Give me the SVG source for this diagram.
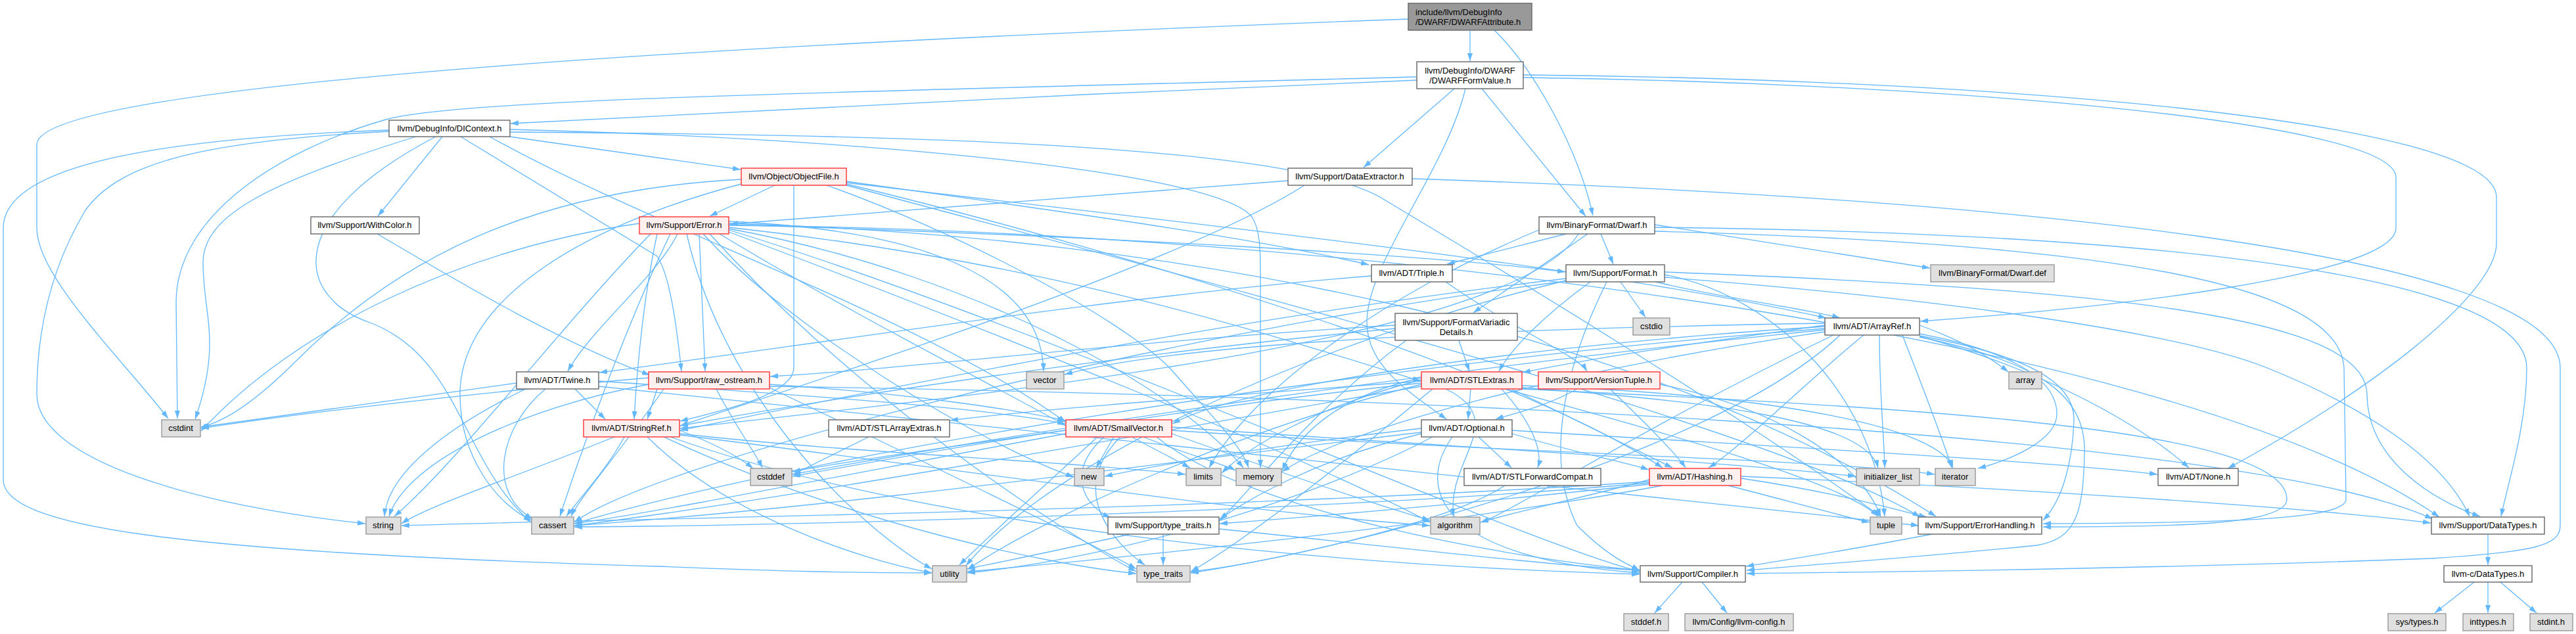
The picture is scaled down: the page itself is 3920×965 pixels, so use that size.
<svg xmlns="http://www.w3.org/2000/svg" width="3920" height="965" viewBox="0 0 3920 965">
<defs>
<style>
.e{fill:none;stroke:#63b8ff;stroke-width:1.3;marker-end:url(#ah)}
.w{fill:#ffffff;stroke:#666666;stroke-width:1.4}
.r{fill:#fff0f0;stroke:#ff3333;stroke-width:1.4}
.g{fill:#e0e0e0;stroke:#999999;stroke-width:1.4}
.k{fill:#999999;stroke:#666666;stroke-width:1.4}
text{font-family:"Liberation Sans",Arial,sans-serif;font-size:13px;fill:#000000;text-anchor:middle}
</style>
<marker id="ah" viewBox="0 0 12 8" refX="12" refY="4" markerWidth="12" markerHeight="8" markerUnits="userSpaceOnUse" orient="auto"><path d="M0,0 L12,4 L0,8 z" fill="#63b8ff"/></marker>
</defs>
<rect width="3920" height="965" fill="#ffffff"/>
<g id="edges">
<path class="e" d="M2237,46 L2237,93"/>
<path class="e" d="M2274,46 C2330,100 2400,220 2424,328"/>
<path class="e" d="M2143,29 C1300,60 56,120 56,220 L56,347 C56,420 180,540 256,637"/>
<path class="e" d="M2156,122 C1700,140 1100,170 777,188"/>
<path class="e" d="M2156,117 C1300,140 700,150 587,182 C420,230 268,330 268,460 L270,637"/>
<path class="e" d="M2213,135 L2075,255"/>
<path class="e" d="M2255,135 L2413,329"/>
<path class="e" d="M2230,135 C2200,260 2080,400 2080,490 C2080,560 2150,600 2201,638"/>
<path class="e" d="M2318,114 C3000,120 3799,180 3799,300 L3799,370 C3799,450 3600,600 3390,713"/>
<path class="e" d="M2318,118 C2900,125 3646,180 3646,270 L3646,347 C3646,420 3200,470 2922,489"/>
<path class="e" d="M776,208 L1127,258"/>
<path class="e" d="M673,208 L575,329"/>
<path class="e" d="M745,208 C1000,350 1400,480 1622,643"/>
<path class="e" d="M776,197 C1300,210 1850,260 1905,330 C1918,350 1918,380 1918,420 L1918,712"/>
<path class="e" d="M776,201 C1300,205 1950,215 2100,300 C2300,420 2600,600 2862,786"/>
<path class="e" d="M592,200 C300,215 180,250 130,320 C70,420 56,520 56,600 C56,700 300,770 556,797"/>
<path class="e" d="M592,198 C250,210 5,250 5,347 L5,730 C5,800 250,840 1000,862 C1200,870 1300,872 1418,872"/>
<path class="e" d="M633,208 C400,280 309,330 309,400 C309,480 338,520 297,638"/>
<path class="e" d="M663,208 C430,330 450,450 560,490 C700,540 700,700 808,795"/>
<path class="e" d="M701,208 L1000,390 C1020,420 1030,500 1037,565"/>
<path class="e" d="M1179,282 L1080,329"/>
<path class="e" d="M1208,282 L1208,560 C1208,600 1100,625 1035,641"/>
<path class="e" d="M1288,276 C1600,320 1900,360 2083,403"/>
<path class="e" d="M1288,278 C1800,340 2400,400 2779,484"/>
<path class="e" d="M1288,280 C1700,380 2300,560 2530,712"/>
<path class="e" d="M1288,282 C1800,420 2700,650 2922,787"/>
<path class="e" d="M1258,282 C1450,350 1700,480 1780,560 C1850,640 1890,680 1900,712"/>
<path class="e" d="M1128,273 C800,290 600,400 450,550 C400,600 350,640 306,650"/>
<path class="e" d="M1128,280 C900,340 700,450 700,600 C700,700 760,770 809,792"/>
<path class="e" d="M1031,356 C1000,420 900,500 864,565"/>
<path class="e" d="M1064,356 L1073,565"/>
<path class="e" d="M1000,356 C980,450 970,550 965,638"/>
<path class="e" d="M1095,356 C1300,480 1500,580 1622,648"/>
<path class="e" d="M1109,346 C1600,400 1900,500 2162,580"/>
<path class="e" d="M1109,340 C1800,360 2500,500 2946,786"/>
<path class="e" d="M1109,342 C1700,360 2200,390 2382,414"/>
<path class="e" d="M1109,350 C1600,500 2300,820 2495,870"/>
<path class="e" d="M1109,343 C2000,350 3300,500 3712,787"/>
<path class="e" d="M973,340 C700,380 450,500 306,656"/>
<path class="e" d="M1020,356 C950,500 880,700 852,786"/>
<path class="e" d="M990,356 C850,500 700,700 600,786"/>
<path class="e" d="M1045,356 C1100,600 1300,800 1418,866"/>
<path class="e" d="M1080,356 C1300,600 1600,800 1729,870"/>
<path class="e" d="M1109,337 C1400,350 1585,420 1588,565"/>
<path class="e" d="M1109,348 C1500,420 1800,600 1892,712"/>
<path class="e" d="M1109,353 C1500,500 2000,700 2176,795"/>
<path class="e" d="M1070,356 C1200,500 1500,680 1634,726"/>
<path class="e" d="M574,356 C700,430 850,520 989,571"/>
<path class="e" d="M1960,275 L1111,341"/>
<path class="e" d="M1985,282 C1800,400 1300,560 1035,648"/>
<path class="e" d="M2149,272 C3000,300 3896,380 3896,560 L3896,800 C3896,830 3860,840 3700,850 C3300,865 2900,870 2658,873"/>
<path class="e" d="M2383,356 L2202,402"/>
<path class="e" d="M2436,356 L2455,402"/>
<path class="e" d="M2518,342 C2700,370 2850,395 2937,408"/>
<path class="e" d="M2416,356 L2242,476"/>
<path class="e" d="M2402,356 C2300,520 1500,600 1035,652"/>
<path class="e" d="M2518,352 C3200,370 3560,430 3567,560 L3570,760 C3570,790 3400,796 3109,797"/>
<path class="e" d="M2518,346 C3300,355 3845,420 3845,560 C3845,650 3815,740 3806,786"/>
<path class="e" d="M2342,350 C2100,450 1900,600 1840,712"/>
<path class="e" d="M2087,420 C1700,450 1200,530 912,567"/>
<path class="e" d="M2200,429 C2300,500 2400,540 2415,565"/>
<path class="e" d="M2466,429 L2504,483"/>
<path class="e" d="M2520,429 C2600,450 2750,470 2800,484"/>
<path class="e" d="M2420,429 C2350,480 2300,530 2281,565"/>
<path class="e" d="M2383,424 C1900,480 1400,580 1035,655"/>
<path class="e" d="M2445,429 C2380,560 2350,700 2400,800 C2450,850 2480,860 2495,868"/>
<path class="e" d="M2533,418 C2700,450 2850,600 2868,786"/>
<path class="e" d="M2383,427 C2000,520 1600,700 1470,861"/>
<path class="e" d="M2533,414 C3200,440 3600,480 3602,600 C3603,700 3700,760 3774,786"/>
<path class="e" d="M2533,422 C2900,450 3300,500 3450,560 C3600,620 3720,700 3758,786"/>
<path class="e" d="M2383,428 C1800,500 1000,700 874,795"/>
<path class="e" d="M2220,518 L2236,565"/>
<path class="e" d="M2123,500 C1700,540 1300,600 1035,648"/>
<path class="e" d="M2123,495 C1700,520 1400,560 1172,573"/>
<path class="e" d="M2140,518 C2000,620 1900,750 1856,792"/>
<path class="e" d="M2921,495 C2990,520 3030,545 3056,566"/>
<path class="e" d="M2836,510 C2750,580 2650,680 2600,712"/>
<path class="e" d="M2921,512 C3100,560 3250,640 3331,712"/>
<path class="e" d="M2921,508 C3040,530 3130,570 3130,630 C3130,670 3060,700 3010,713"/>
<path class="e" d="M2860,510 C2860,600 2868,680 2868,712"/>
<path class="e" d="M2895,510 C2930,600 2960,680 2970,712"/>
<path class="e" d="M2777,495 C2600,520 2450,540 2317,567"/>
<path class="e" d="M2777,497 C2400,520 1900,580 1784,645"/>
<path class="e" d="M2921,511 C3080,540 3158,580 3156,640 C3154,700 3140,760 3109,792"/>
<path class="e" d="M2921,513 C3100,550 3175,600 3172,690 C3170,780 3160,820 3100,830 C2900,850 2750,860 2658,868"/>
<path class="e" d="M2777,500 C2000,560 1200,700 874,797"/>
<path class="e" d="M2777,502 C2200,560 1600,650 1206,722"/>
<path class="e" d="M2777,505 C2400,560 2050,650 1951,718"/>
<path class="e" d="M2800,510 C2600,700 2000,850 1812,870"/>
<path class="e" d="M2777,492 C2300,500 1800,520 1620,570"/>
<path class="e" d="M2790,510 C2500,650 2300,780 2253,795"/>
<path class="e" d="M875,592 L921,638"/>
<path class="e" d="M911,580 C1200,600 1500,620 1621,645"/>
<path class="e" d="M786,583 C600,610 450,630 306,650"/>
<path class="e" d="M800,592 C680,650 590,720 585,786"/>
<path class="e" d="M830,592 C760,650 740,750 811,790"/>
<path class="e" d="M911,588 C1500,650 2500,750 2920,800"/>
<path class="e" d="M1000,592 L985,638"/>
<path class="e" d="M1090,592 C1120,650 1150,690 1160,712"/>
<path class="e" d="M987,575 C700,600 450,630 306,652"/>
<path class="e" d="M987,585 C800,620 620,700 592,786"/>
<path class="e" d="M1010,592 C950,680 880,760 869,786"/>
<path class="e" d="M1171,585 C1400,600 1550,625 1621,640"/>
<path class="e" d="M1171,588 C2000,600 3400,650 3702,790"/>
<path class="e" d="M1171,590 C1400,700 1650,820 1729,866"/>
<path class="e" d="M2238,592 L2234,638"/>
<path class="e" d="M2285,592 C2320,630 2350,680 2340,712"/>
<path class="e" d="M2300,592 C2400,640 2500,690 2545,712"/>
<path class="e" d="M2163,580 C1900,600 1600,620 1446,640"/>
<path class="e" d="M2316,590 C2600,610 2840,640 2858,712"/>
<path class="e" d="M2316,587 C2700,600 2950,650 2972,712"/>
<path class="e" d="M2200,592 C2300,640 2200,700 2212,786"/>
<path class="e" d="M2290,592 C2500,650 2800,730 2858,786"/>
<path class="e" d="M2163,585 C1900,650 1600,780 1472,867"/>
<path class="e" d="M2180,592 C2050,700 1900,820 1812,870"/>
<path class="e" d="M2163,575 C2050,600 1980,650 1951,716"/>
<path class="e" d="M2163,578 C2000,620 1900,680 1859,720"/>
<path class="e" d="M2163,583 C1800,620 1400,690 1206,725"/>
<path class="e" d="M2163,588 C1800,650 1200,760 874,800"/>
<path class="e" d="M2316,592 C2900,620 3480,650 3480,760 C3480,800 3300,802 3109,802"/>
<path class="e" d="M2400,592 C2350,620 2300,630 2276,638"/>
<path class="e" d="M2450,592 C2500,640 2550,690 2565,712"/>
<path class="e" d="M2526,585 C2700,620 2830,700 2862,786"/>
<path class="e" d="M935,665 C800,720 650,770 611,797"/>
<path class="e" d="M950,665 C920,720 880,760 862,786"/>
<path class="e" d="M1034,655 C1100,680 1130,700 1146,713"/>
<path class="e" d="M1034,660 C1300,690 1600,700 1804,722"/>
<path class="e" d="M985,665 C1100,780 1300,850 1418,872"/>
<path class="e" d="M1010,665 C1300,800 1600,860 1729,873"/>
<path class="e" d="M1034,662 C1500,720 1900,780 2176,800"/>
<path class="e" d="M1020,665 C1400,800 2000,860 2495,874"/>
<path class="e" d="M1322,665 L1207,722"/>
<path class="e" d="M1695,665 L1668,712"/>
<path class="e" d="M1722,665 L1811,712"/>
<path class="e" d="M1740,665 C1800,690 1860,705 1880,716"/>
<path class="e" d="M1680,665 C1620,720 1650,770 1690,788"/>
<path class="e" d="M1705,665 C1620,750 1700,830 1742,860"/>
<path class="e" d="M1670,665 C1600,730 1500,820 1460,860"/>
<path class="e" d="M1622,660 C1300,720 1000,780 874,797"/>
<path class="e" d="M1622,655 C1450,680 1300,700 1206,718"/>
<path class="e" d="M1783,660 C1950,720 2100,770 2176,792"/>
<path class="e" d="M1760,665 C1900,780 2300,850 2495,868"/>
<path class="e" d="M1783,650 C2200,680 2600,700 2824,725"/>
<path class="e" d="M1783,655 C2300,690 2800,700 2944,722"/>
<path class="e" d="M2250,665 L2300,712"/>
<path class="e" d="M2301,660 C2400,690 2480,705 2509,715"/>
<path class="e" d="M2301,655 C2700,680 3100,700 3283,722"/>
<path class="e" d="M2163,660 C2000,700 1900,760 1856,790"/>
<path class="e" d="M2210,665 C2150,750 2200,850 2495,872"/>
<path class="e" d="M2163,658 C1800,700 1300,770 874,800"/>
<path class="e" d="M2180,665 C2000,760 1700,850 1472,872"/>
<path class="e" d="M2163,652 C2000,670 1800,700 1681,725"/>
<path class="e" d="M2290,739 C2200,800 1900,860 1812,872"/>
<path class="e" d="M2510,730 C2400,760 2300,780 2253,795"/>
<path class="e" d="M2630,739 C2750,770 2820,790 2845,795"/>
<path class="e" d="M2649,728 C2800,750 2900,780 2932,787"/>
<path class="e" d="M2649,725 C3000,740 3500,770 3699,796"/>
<path class="e" d="M2510,735 C2000,780 1200,800 874,802"/>
<path class="e" d="M2510,733 C1800,780 900,790 611,800"/>
<path class="e" d="M2530,739 C2200,800 1700,850 1472,870"/>
<path class="e" d="M2510,737 C2200,770 1950,790 1856,797"/>
<path class="e" d="M1770,813 L1770,860"/>
<path class="e" d="M1720,813 C1600,840 1500,860 1472,866"/>
<path class="e" d="M1855,805 C2100,830 2350,860 2495,868"/>
<path class="e" d="M2940,813 C2800,840 2700,855 2657,862"/>
<path class="e" d="M3786,813 L3786,860"/>
<path class="e" d="M2560,886 L2518,933"/>
<path class="e" d="M2590,886 L2628,933"/>
<path class="e" d="M3765,886 L3705,933"/>
<path class="e" d="M3786,886 L3786,933"/>
<path class="e" d="M3805,886 L3860,933"/>
</g>
<g id="n1"><rect class="k" x="2143" y="5" width="188" height="41"/><text x="2154" y="23" style="text-anchor:start">include/llvm/DebugInfo</text><text x="2154" y="38" style="text-anchor:start">/DWARF/DWARFAttribute.h</text></g>
<g id="n2"><rect class="w" x="2156" y="94" width="162" height="41"/><text x="2237" y="112">llvm/DebugInfo/DWARF</text><text x="2237" y="127">/DWARFFormValue.h</text></g>
<g id="n3"><rect class="w" x="592" y="183" width="184" height="25"/><text x="684" y="200">llvm/DebugInfo/DIContext.h</text></g>
<g id="n4"><rect class="r" x="1128" y="256" width="160" height="26"/><text x="1208" y="273">llvm/Object/ObjectFile.h</text></g>
<g id="n5"><rect class="r" x="973" y="330" width="136" height="26"/><text x="1041" y="347">llvm/Support/Error.h</text></g>
<g id="n6"><rect class="w" x="473" y="330" width="165" height="26"/><text x="555" y="347">llvm/Support/WithColor.h</text></g>
<g id="n7"><rect class="w" x="1960" y="256" width="189" height="26"/><text x="2054" y="273">llvm/Support/DataExtractor.h</text></g>
<g id="n8"><rect class="w" x="2342" y="330" width="176" height="26"/><text x="2430" y="347">llvm/BinaryFormat/Dwarf.h</text></g>
<g id="n9"><rect class="w" x="2087" y="403" width="123" height="26"/><text x="2148" y="420">llvm/ADT/Triple.h</text></g>
<g id="n10"><rect class="w" x="2383" y="403" width="150" height="26"/><text x="2458" y="420">llvm/Support/Format.h</text></g>
<g id="n11"><rect class="g" x="2938" y="403" width="188" height="26"/><text x="3032" y="420">llvm/BinaryFormat/Dwarf.def</text></g>
<g id="n12"><rect class="w" x="2123" y="477" width="186" height="41"/><text x="2216" y="495">llvm/Support/FormatVariadic</text><text x="2216" y="510">Details.h</text></g>
<g id="n13"><rect class="g" x="2485" y="484" width="56" height="26"/><text x="2513" y="501">cstdio</text></g>
<g id="n14"><rect class="w" x="2777" y="484" width="144" height="26"/><text x="2849" y="501">llvm/ADT/ArrayRef.h</text></g>
<g id="n15"><rect class="w" x="786" y="566" width="125" height="26"/><text x="848" y="583">llvm/ADT/Twine.h</text></g>
<g id="n16"><rect class="r" x="987" y="566" width="184" height="26"/><text x="1079" y="583">llvm/Support/raw_ostream.h</text></g>
<g id="n17"><rect class="g" x="1562" y="566" width="57" height="26"/><text x="1590" y="583">vector</text></g>
<g id="n18"><rect class="r" x="2163" y="566" width="153" height="26"/><text x="2240" y="583">llvm/ADT/STLExtras.h</text></g>
<g id="n19"><rect class="r" x="2341" y="566" width="185" height="26"/><text x="2433" y="583">llvm/Support/VersionTuple.h</text></g>
<g id="n20"><rect class="g" x="3057" y="566" width="50" height="26"/><text x="3082" y="583">array</text></g>
<g id="n21"><rect class="g" x="246" y="639" width="59" height="26"/><text x="275" y="656">cstdint</text></g>
<g id="n22"><rect class="r" x="888" y="639" width="146" height="26"/><text x="961" y="656">llvm/ADT/StringRef.h</text></g>
<g id="n23"><rect class="w" x="1261" y="639" width="184" height="26"/><text x="1353" y="656">llvm/ADT/STLArrayExtras.h</text></g>
<g id="n24"><rect class="r" x="1622" y="639" width="161" height="26"/><text x="1702" y="656">llvm/ADT/SmallVector.h</text></g>
<g id="n25"><rect class="w" x="2163" y="639" width="138" height="26"/><text x="2232" y="656">llvm/ADT/Optional.h</text></g>
<g id="n26"><rect class="g" x="1142" y="713" width="63" height="26"/><text x="1173" y="730">cstddef</text></g>
<g id="n27"><rect class="g" x="1635" y="713" width="45" height="26"/><text x="1657" y="730">new</text></g>
<g id="n28"><rect class="g" x="1805" y="713" width="53" height="26"/><text x="1831" y="730">limits</text></g>
<g id="n29"><rect class="g" x="1881" y="713" width="69" height="26"/><text x="1915" y="730">memory</text></g>
<g id="n30"><rect class="g" x="2825" y="713" width="96" height="26"/><text x="2873" y="730">initializer_list</text></g>
<g id="n31"><rect class="g" x="2945" y="713" width="61" height="26"/><text x="2975" y="730">iterator</text></g>
<g id="n32"><rect class="w" x="3284" y="713" width="122" height="26"/><text x="3345" y="730">llvm/ADT/None.h</text></g>
<g id="n33"><rect class="w" x="2228" y="713" width="208" height="26"/><text x="2332" y="730">llvm/ADT/STLForwardCompat.h</text></g>
<g id="n34"><rect class="r" x="2510" y="713" width="139" height="26"/><text x="2579" y="730">llvm/ADT/Hashing.h</text></g>
<g id="n35"><rect class="g" x="557" y="787" width="53" height="26"/><text x="583" y="804">string</text></g>
<g id="n36"><rect class="g" x="809" y="787" width="64" height="26"/><text x="841" y="804">cassert</text></g>
<g id="n37"><rect class="w" x="1686" y="787" width="169" height="26"/><text x="1770" y="804">llvm/Support/type_traits.h</text></g>
<g id="n38"><rect class="g" x="2177" y="787" width="75" height="26"/><text x="2214" y="804">algorithm</text></g>
<g id="n39"><rect class="g" x="2846" y="787" width="48" height="26"/><text x="2870" y="804">tuple</text></g>
<g id="n40"><rect class="w" x="2919" y="787" width="188" height="26"/><text x="3013" y="804">llvm/Support/ErrorHandling.h</text></g>
<g id="n41"><rect class="w" x="3700" y="787" width="172" height="26"/><text x="3786" y="804">llvm/Support/DataTypes.h</text></g>
<g id="n42"><rect class="g" x="1419" y="861" width="52" height="25"/><text x="1445" y="878">utility</text></g>
<g id="n43"><rect class="g" x="1730" y="861" width="81" height="25"/><text x="1770" y="878">type_traits</text></g>
<g id="n44"><rect class="w" x="2496" y="861" width="160" height="25"/><text x="2576" y="878">llvm/Support/Compiler.h</text></g>
<g id="n45"><rect class="w" x="3719" y="861" width="134" height="25"/><text x="3786" y="878">llvm-c/DataTypes.h</text></g>
<g id="n46"><rect class="g" x="2471" y="934" width="68" height="26"/><text x="2505" y="951">stddef.h</text></g>
<g id="n47"><rect class="g" x="2564" y="934" width="165" height="26"/><text x="2646" y="951">llvm/Config/llvm-config.h</text></g>
<g id="n48"><rect class="g" x="3634" y="934" width="88" height="26"/><text x="3678" y="951">sys/types.h</text></g>
<g id="n49"><rect class="g" x="3748" y="934" width="77" height="26"/><text x="3786" y="951">inttypes.h</text></g>
<g id="n50"><rect class="g" x="3850" y="934" width="65" height="26"/><text x="3882" y="951">stdint.h</text></g>
</svg>
